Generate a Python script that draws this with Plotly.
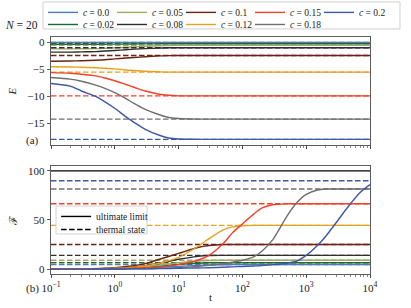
import plotly.graph_objects as go

# ---------------- data ----------------
C_LABELS = ["0.0", "0.02", "0.05", "0.08", "0.1", "0.12", "0.15", "0.18", "0.2"]
COLORS = ["#5577bb", "#1a6b35", "#a3a867", "#2e2e2e", "#6b2212",
          "#e8a21f", "#f2422a", "#6f6f6f", "#3c58a8"]

T_RANGE = [0.1, 10000]

# Energy E(t)
T_E = [0.1, 0.2, 0.3, 0.5, 0.7, 1, 1.5, 2, 3, 5, 7, 10, 20, 100, 10000]
E_c000 = [0, 0, 0, 0, 0, 0, 0, 0, 0, 0, 0, 0, 0, 0, 0]
E_c002 = [-0.35, -0.35, -0.35, -0.34, -0.33, -0.32, -0.3, -0.29, -0.27, -0.26, -0.25, -0.25, -0.25, -0.25, -0.25]
E_c005 = [-1.2, -1.2, -1.18, -1.15, -1.1, -1.0, -0.9, -0.82, -0.72, -0.62, -0.58, -0.55, -0.55, -0.55, -0.55]
E_c008 = [-1.8, -1.8, -1.75, -1.7, -1.6, -1.5, -1.35, -1.25, -1.15, -1.05, -1.0, -1.0, -1.0, -1.0, -1.0]
E_c010 = [-3.5, -3.45, -3.4, -3.3, -3.2, -3.05, -2.9, -2.8, -2.65, -2.5, -2.45, -2.42, -2.42, -2.42, -2.42]
E_c012 = [-4.5, -4.55, -4.6, -4.7, -4.8, -4.9, -5.1, -5.2, -5.35, -5.45, -5.5, -5.5, -5.5, -5.5, -5.5]
E_c015 = [-5.6, -5.7, -5.9, -6.2, -6.6, -7.1, -7.8, -8.3, -9.0, -9.6, -9.8, -9.9, -9.9, -9.9, -9.9]
E_c018 = [-6.5, -6.8, -7.2, -7.9, -8.5, -9.3, -10.4, -11.3, -12.4, -13.4, -13.9, -14.1, -14.2, -14.2, -14.2]
E_c020 = [-7.6, -8.1, -9.0, -10.0, -11.0, -12.2, -13.8, -14.8, -16.1, -17.2, -17.7, -17.9, -17.95, -17.95, -17.95]
E_CURVES = [E_c000, E_c002, E_c005, E_c008, E_c010, E_c012, E_c015, E_c018, E_c020]
E_THERMAL = [0, -0.25, -0.55, -1.0, -2.42, -5.5, -9.9, -14.2, -17.95]

# Figure of merit F(t)
T_F = [0.1, 0.3, 1, 2, 3, 5, 10, 20, 30, 50, 70, 100, 150, 200, 300, 500, 700,
       1000, 1500, 2000, 3000, 5000, 7000, 10000]
F_c000 = [0, 0, 0.3, 0.7, 1.1, 1.8, 2.8, 3.7, 4.1, 4.4, 4.5, 4.5, 4.5, 4.5, 4.5, 4.5, 4.5, 4.5, 4.5, 4.5, 4.5, 4.5, 4.5, 4.5]
F_c002 = [0, 0.05, 0.5, 1.1, 1.7, 3.0, 4.8, 6.0, 6.4, 6.5, 6.5, 6.5, 6.5, 6.5, 6.5, 6.5, 6.5, 6.5, 6.5, 6.5, 6.5, 6.5, 6.5, 6.5]
F_c005 = [0, 0.1, 0.7, 1.5, 2.3, 4.0, 6.5, 8.3, 8.8, 9.0, 9.0, 9.0, 9.0, 9.0, 9.0, 9.0, 9.0, 9.0, 9.0, 9.0, 9.0, 9.0, 9.0, 9.0]
F_c008 = [0, 0.1, 1.0, 2.2, 3.5, 6.0, 10.0, 13.0, 13.8, 14.0, 14.0, 14.0, 14.0, 14.0, 14.0, 14.0, 14.0, 14.0, 14.0, 14.0, 14.0, 14.0, 14.0, 14.0]
F_c010 = [0, 0.2, 1.5, 3.5, 5.5, 10.0, 16.0, 22.0, 24.0, 25.0, 25.0, 25.0, 25.0, 25.0, 25.0, 25.0, 25.0, 25.0, 25.0, 25.0, 25.0, 25.0, 25.0, 25.0]
F_c012 = [0, 0.1, 0.8, 2.0, 3.2, 6.0, 12.0, 23.0, 31.0, 40.0, 43.0, 44.0, 44.5, 44.5, 44.5, 44.5, 44.5, 44.5, 44.5, 44.5, 44.5, 44.5, 44.5, 44.5]
F_c015 = [0, 0, 0.3, 0.8, 1.3, 2.3, 4.5, 9.0, 14.0, 26.0, 37.0, 46.0, 56.0, 62.0, 65.5, 66.5, 66.5, 66.5, 66.5, 66.5, 66.5, 66.5, 66.5, 66.5]
F_c018 = [0, 0, 0.1, 0.2, 0.4, 0.8, 1.5, 2.8, 3.8, 5.5, 7.0, 9.0, 12.5, 18.0, 30.0, 54.0, 67.0, 76.0, 80.5, 81.5, 81.5, 81.5, 81.5, 81.5]
F_c020 = [0, 0, 0.1, 0.2, 0.3, 0.5, 0.8, 1.1, 1.4, 1.9, 2.3, 2.7, 3.2, 3.6, 4.5, 6.0, 8.0, 14.0, 24.0, 33.0, 48.0, 67.0, 78.0, 86.0]
F_CURVES = [F_c000, F_c002, F_c005, F_c008, F_c010, F_c012, F_c015, F_c018, F_c020]
F_THERMAL = [4.5, 6.5, 9.0, 14.0, 25.0, 44.5, 66.5, 81.5, 90.0]
F_ULTIMATE = 100

X_TICKVALS = [0.1, 1, 10, 100, 1000, 10000]
X_TICKTEXT = ["10<sup>\u22121</sup>", "10<sup>0</sup>", "10<sup>1</sup>",
              "10<sup>2</sup>", "10<sup>3</sup>", "10<sup>4</sup>"]
E_TICKS = [0, -5, -10, -15]
F_TICKS = [0, 50, 100]

# ---------------- figure ----------------
FONT = "Liberation Serif"
DASH = "5.5px,2.5px"
LW = 1.4

fig = go.Figure()

for i, c in enumerate(C_LABELS):
    col = COLORS[i]
    row_legend = "legend" if i % 2 == 0 else "legend3"
    fig.add_trace(go.Scatter(x=T_RANGE, y=[E_THERMAL[i]] * 2, mode="lines",
                             line=dict(color=col, width=LW, dash=DASH),
                             xaxis="x", yaxis="y", showlegend=False, hoverinfo="skip"))
    fig.add_trace(go.Scatter(x=T_E, y=E_CURVES[i], mode="lines",
                             line=dict(color=col, width=LW, shape="spline", smoothing=0.8),
                             xaxis="x", yaxis="y", name="<i>c</i> = " + c,
                             legend=row_legend, showlegend=True))

# blank spacer entry so the second legend row is as wide as the first
fig.add_trace(go.Scatter(x=[None], y=[None], mode="lines",
                         line=dict(color="rgba(0,0,0,0)", width=0),
                         xaxis="x", yaxis="y", name=" ", legend="legend3", showlegend=True))

for i, c in enumerate(C_LABELS):
    col = COLORS[i]
    fig.add_trace(go.Scatter(x=T_RANGE, y=[F_THERMAL[i]] * 2, mode="lines",
                             line=dict(color=col, width=LW, dash=DASH),
                             xaxis="x2", yaxis="y2", showlegend=False, hoverinfo="skip"))
    fig.add_trace(go.Scatter(x=T_F, y=F_CURVES[i], mode="lines",
                             line=dict(color=col, width=LW, shape="spline", smoothing=0.8),
                             xaxis="x2", yaxis="y2", showlegend=False))

fig.add_trace(go.Scatter(x=T_RANGE, y=[F_ULTIMATE] * 2, mode="lines",
                         line=dict(color="black", width=LW),
                         xaxis="x2", yaxis="y2", name="ultimate limit",
                         legend="legend2", showlegend=True))
fig.add_trace(go.Scatter(x=[None], y=[None], mode="lines",
                         line=dict(color="black", width=LW, dash=DASH),
                         xaxis="x2", yaxis="y2", name="thermal state",
                         legend="legend4", showlegend=True))

axis_common = dict(showline=True, linecolor="#333", linewidth=0.8, mirror=True,
                   ticks="outside", ticklen=3.5, tickwidth=0.8, tickcolor="#333",
                   showgrid=False, zeroline=False, automargin=False,
                   tickfont=dict(family=FONT, size=11, color="#222"))

xminor = dict(ticks="outside", ticklen=2, tickwidth=0.6, tickcolor="#333",
              dtick="D1", showgrid=False)

legend_common = dict(orientation="h", xanchor="left", yanchor="top",
                     entrywidth=24, entrywidthmode="pixels", traceorder="normal",
                     bgcolor="rgba(0,0,0,0)", borderwidth=0,
                     font=dict(family=FONT, size=9.5, color="#222"),
                     itemwidth=30, tracegroupgap=0)
legend_small = dict(orientation="h", xanchor="left", yanchor="top",
                    bgcolor="rgba(0,0,0,0)", borderwidth=0,
                    font=dict(family=FONT, size=9.5, color="#222"), itemwidth=30)

fig.update_layout(
    width=411, height=308,
    margin=dict(l=51, r=41, t=37, b=34, autoexpand=False),
    paper_bgcolor="white", plot_bgcolor="white",
    font=dict(family=FONT, size=11, color="#222"),
    xaxis=dict(type="log", range=[-1, 4], domain=[0, 1], anchor="y",
               tickvals=X_TICKVALS, showticklabels=False, minor=xminor, **axis_common),
    yaxis=dict(range=[-19, 1], domain=[0.5443, 1], anchor="x", tickvals=E_TICKS,
               title=dict(text="<i>E</i>", standoff=8, font=dict(family=FONT, size=11)),
               **axis_common),
    xaxis2=dict(type="log", range=[-1, 4], domain=[0, 1], anchor="y2", matches="x",
                tickvals=X_TICKVALS, ticktext=X_TICKTEXT, minor=xminor,
                title=dict(text="t", standoff=0, font=dict(family=FONT, size=11)),
                **axis_common),
    yaxis2=dict(range=[-5, 105], domain=[0, 0.4557], anchor="x2", tickvals=F_TICKS,
                title=dict(text="\u2131", standoff=8, font=dict(family=FONT, size=11)),
                **axis_common),
    legend=dict(x=-0.025, y=1.165, **legend_common),
    legend3=dict(x=-0.025, y=1.114, **legend_common),
    legend2=dict(x=0.016, y=0.304, **legend_small),
    legend4=dict(x=0.016, y=0.249, **legend_small),
    shapes=[
        dict(type="rect", xref="paper", yref="paper", x0=-0.025, x1=1.094,
             y0=1.034, y1=1.148, fillcolor="white", line=dict(color="#d0d0d0", width=1),
             layer="above"),
        dict(type="rect", xref="paper", yref="paper", x0=0.0157, x1=0.301,
             y0=0.169, y1=0.287, fillcolor="white", line=dict(color="#d0d0d0", width=1),
             layer="above"),
    ],
    annotations=[
        dict(text="<i>N</i> = 20", x=-0.034, y=1.084, xref="paper", yref="paper",
             xanchor="right", showarrow=False, font=dict(family=FONT, size=11.5)),
        dict(text="(a)", x=-0.085, y=0.565, xref="paper", yref="paper",
             showarrow=False, font=dict(family=FONT, size=11)),
        dict(text="(b)", x=-0.085, y=-0.097, xref="paper", yref="paper",
             showarrow=False, font=dict(family=FONT, size=11)),
    ],
)

fig.write_html("out.html", config={"displayModeBar": False, "staticPlot": True},
               post_script="document.body.style.margin='0';document.body.style.padding='0';")
